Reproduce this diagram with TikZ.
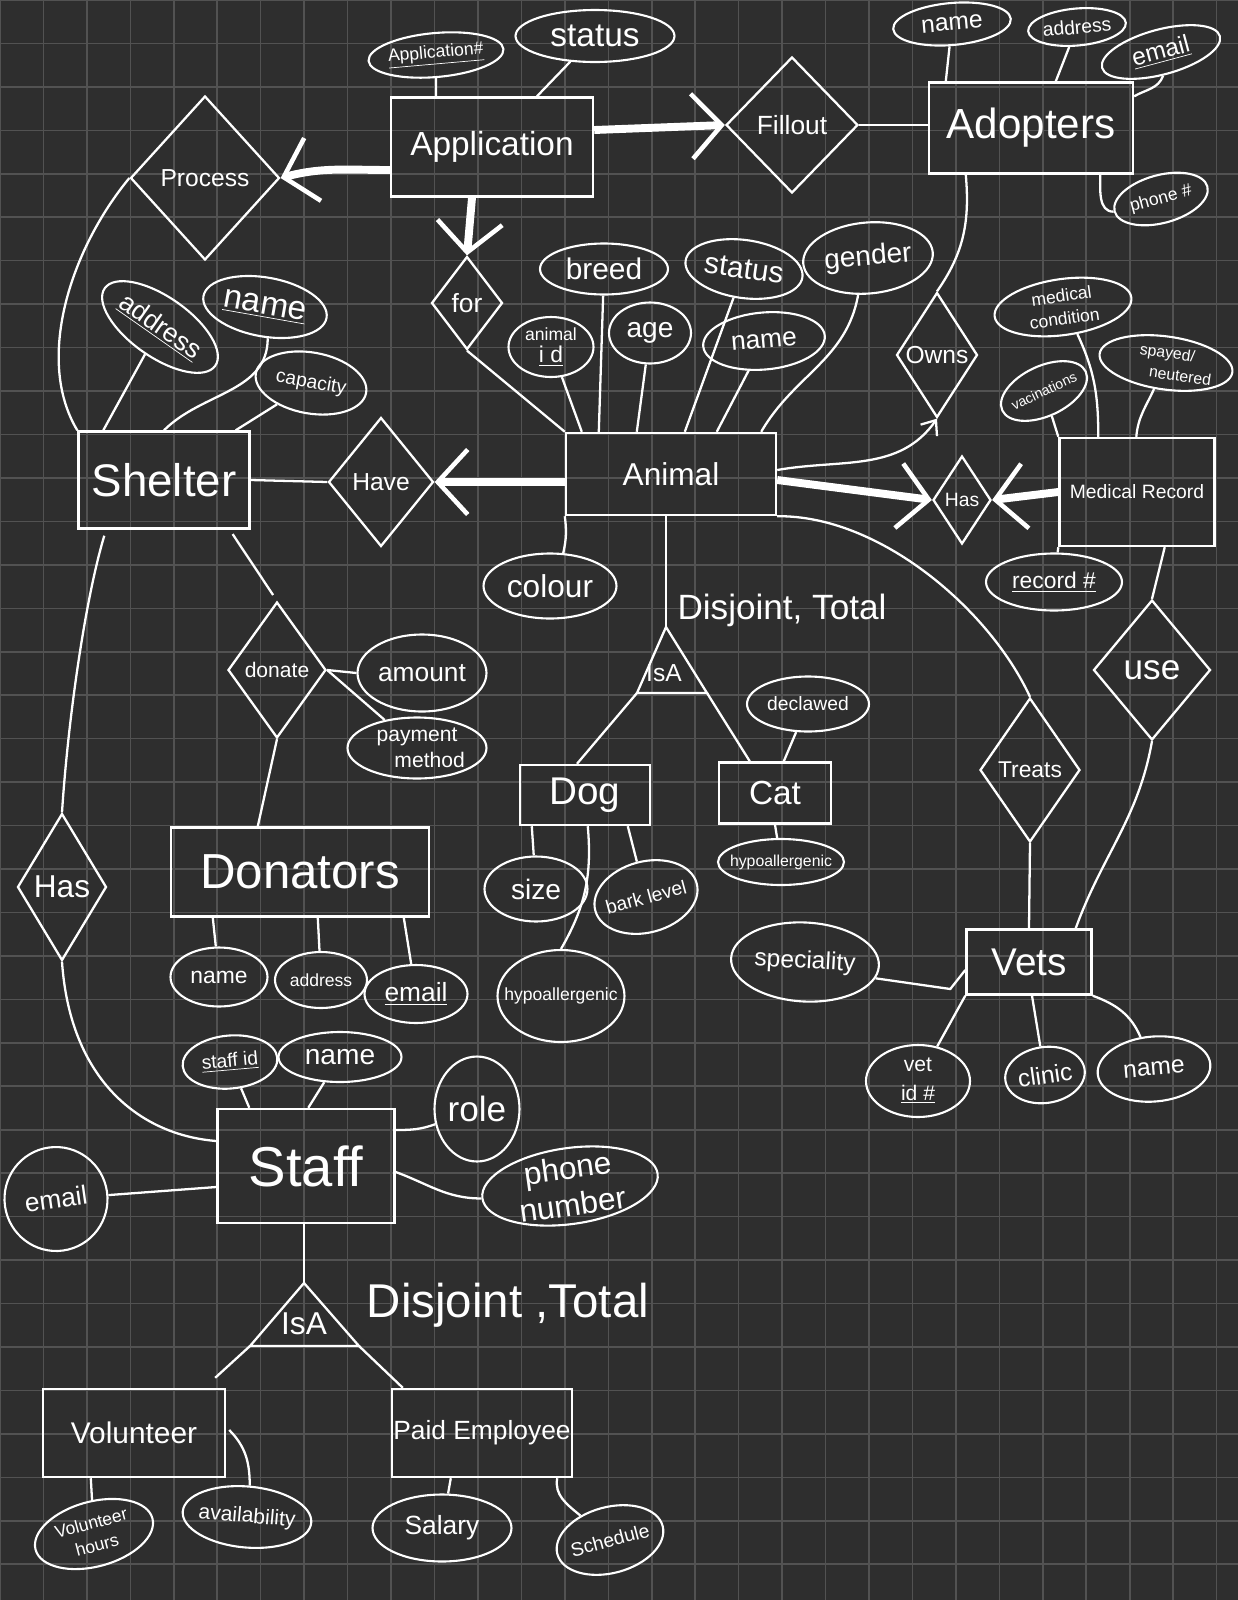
\documentclass[tikz,border=0pt]{standalone}
\usepackage{fontspec}
\setmainfont{Liberation Sans}
\usepackage{tikz}
\usetikzlibrary{arrows.meta,positioning,shapes.geometric,calc}
\definecolor{board}{HTML}{2E2E2E}
\definecolor{gridline}{HTML}{525252}
\definecolor{chalk}{HTML}{FFFFFF}
\newcommand{\pen}[2]{\fontsize{#1}{#2}\selectfont}

\begin{document}
\begin{tikzpicture}[
        x=0.02cm, y=-0.02cm,
        color=chalk,
        ent/.style={draw, rectangle, line width=1.4pt, inner sep=0pt},
        rel/.style={draw, diamond, line width=1.3pt, inner sep=0pt},
        attr/.style={draw, ellipse, line width=1.2pt, inner sep=0pt, align=center},
        tag/.style={inner sep=0pt, align=center},
        link/.style={line width=1.3pt},
        fat/.style={line width=4.5pt, -{Straight Barb[length=6mm,width=13mm,line width=2.6pt]}},
        gridln/.style={draw=gridline, line width=0.9pt}
    ]
    \fill[board] (0,0) rectangle (1238,1600);
    \useasboundingbox (0,0) rectangle (1238,1600);
    \foreach \k in {0,...,28} \draw[gridln] (43.45*\k,0) -- (43.45*\k,1600);
    \foreach \k in {0,...,36} \draw[gridln] (0,43.45*\k) -- (1238,43.45*\k);

    \node[ent, minimum width=4.04cm, minimum height=1.98cm, font=\pen{19}{23}] (app) at (492,147) {Application};
    \node[ent, minimum width=4.08cm, minimum height=1.82cm, font=\pen{24}{28}] (adop) at (1031,128) {Adopters};
    \node[ent, minimum width=4.2cm, minimum height=1.64cm, font=\pen{18}{22}] (anim) at (671,474) {Animal};
    \node[ent, minimum width=3.42cm, minimum height=1.94cm, font=\pen{26}{30}] (shel) at (164,480) {Shelter};
    \node[ent, minimum width=3.1cm, minimum height=2.16cm, font=\pen{11}{13}] (medr) at (1137,492) {Medical Record};
    \node[ent, minimum width=2.6cm, minimum height=1.2cm, font=\pen{22}{26}] (dog) at (585,795) {Dog};
    \node[ent, minimum width=2.24cm, minimum height=1.22cm, font=\pen{19}{23}] (cat) at (775,793) {Cat};
    \node[ent, minimum width=5.16cm, minimum height=1.78cm, font=\pen{28}{32}] (dona) at (300,872) {Donators};
    \node[ent, minimum width=3.54cm, minimum height=2.28cm, font=\pen{32}{36}] (staff) at (306,1166) {Staff};
    \node[ent, minimum width=2.5cm, minimum height=1.3cm, font=\pen{22}{26}] (vets) at (1029,962) {Vets};
    \node[ent, minimum width=3.64cm, minimum height=1.76cm, font=\pen{17}{20}] (volu) at (134,1433) {Volunteer};
    \node[ent, minimum width=3.6cm, minimum height=1.76cm, font=\pen{15}{18}] (paid) at (482,1433) {Paid Employee};

    \node[rel, minimum width=2.98cm, minimum height=3.28cm, font=\pen{14}{17}] (proc) at (205,178) {Process};
    \node[rel, minimum width=2.64cm, minimum height=2.72cm, font=\pen{15}{18}] (fill) at (792,125) {Fillout};
    \node[rel, minimum width=1.42cm, minimum height=1.86cm, font=\pen{15}{18}] (forr) at (467,303) {for};
    \node[rel, minimum width=2.1cm, minimum height=2.58cm, font=\pen{14}{17}] (have) at (381,482) {Have};
    \node[rel, minimum width=1.96cm, minimum height=2.72cm, font=\pen{12}{14}] (dnt) at (277,670) {donate};
    \node[rel, minimum width=1.78cm, minimum height=2.94cm, font=\pen{18}{21}] (hasl) at (62,887) {Has};
    \node[rel, minimum width=1.62cm, minimum height=2.5cm, font=\pen{14}{17}] (owns) at (937,355) {Owns};
    \node[rel, minimum width=1.16cm, minimum height=1.76cm, font=\pen{11}{13}] (hasr) at (962,500) {Has};
    \node[rel, minimum width=2.34cm, minimum height=2.8cm, font=\pen{20}{24}] (use) at (1152,670) {use};
    \node[rel, minimum width=2cm, minimum height=2.88cm, font=\pen{13}{16}] (trt) at (1030,770) {Treats};

    \node[attr, minimum width=2.58cm, minimum height=0.88cm, rotate=5, font=\pen{10}{12}] (appno) at (436,55) {\underline{Application\#}};
    \node[attr, minimum width=3.18cm, minimum height=1.04cm, font=\pen{19}{22}] (appst) at (595,36) {status};
    \node[attr, minimum width=2.36cm, minimum height=0.84cm, rotate=5, font=\pen{14}{16}] (adname) at (952,24) {name};
    \node[attr, minimum width=1.96cm, minimum height=0.74cm, rotate=5, font=\pen{11}{13}] (adaddr) at (1077,27) {address};
    \node[attr, minimum width=2.44cm, minimum height=0.9cm, rotate=15, font=\pen{14}{16}] (ademail) at (1161,52) {\underline{email}};
    \node[attr, minimum width=1.92cm, minimum height=0.96cm, rotate=15, font=\pen{10}{12}] (adphone) at (1161,199) {phone \#};
    \node[attr, minimum width=2.56cm, minimum height=1.02cm, font=\pen{17}{20}] (breed) at (604,269) {breed};
    \node[attr, minimum width=1.7cm, minimum height=1.2cm, inner ysep=-1pt, font=\pen{10}{13}] (anid) at (551,347) {animal\\{\pen{13}{14}\underline{i d}}};
    \node[attr, minimum width=1.64cm, minimum height=1.22cm, font=\pen{16}{19}] (age) at (650,333) {age};
    \node[attr, minimum width=2.36cm, minimum height=1.16cm, rotate=-8, font=\pen{17}{20}] (anst) at (744,269) {status};
    \node[attr, minimum width=2.6cm, minimum height=1.42cm, rotate=5, font=\pen{16}{19}] (gend) at (868,258) {gender};
    \node[attr, minimum width=2.44cm, minimum height=1.14cm, rotate=5, font=\pen{15}{18}] (anname) at (764,341) {name};
    \node[attr, minimum width=2.66cm, minimum height=1.3cm, font=\pen{18}{21}] (colour) at (550,586) {colour};
    \node[attr, minimum width=2.7cm, minimum height=1.2cm, rotate=-35, font=\pen{15}{18}] (shaddr) at (160,327) {\underline{address}};
    \node[attr, minimum width=2.5cm, minimum height=1.18cm, rotate=-10, font=\pen{19}{22}] (shname) at (265,307) {\underline{name}};
    \node[attr, minimum width=2.24cm, minimum height=1.22cm, rotate=-10, font=\pen{11}{13}] (shcap) at (311,383) {capacity};
    \node[attr, minimum width=2.58cm, minimum height=1.54cm, font=\pen{15}{18}] (amount) at (422,673) {amount};
    \node[attr, minimum width=2.78cm, minimum height=1.22cm, inner ysep=-1pt, font=\pen{12}{15}] (paym) at (417,748) {payment\\\hspace*{1.2em}method};
    \node[attr, minimum width=1.94cm, minimum height=1.18cm, font=\pen{13}{15}] (dnname) at (219,977) {name};
    \node[attr, minimum width=1.84cm, minimum height=1.12cm, font=\pen{10}{12}] (dnaddr) at (321,980) {address};
    \node[attr, minimum width=2.06cm, minimum height=1.16cm, font=\pen{15}{18}] (dnemail) at (416,994) {\underline{email}};
    \node[attr, minimum width=2.44cm, minimum height=1.1cm, font=\pen{11}{13}] (dcl) at (808,704) {declawed};
    \node[attr, minimum width=2.52cm, minimum height=0.92cm, inner xsep=-4pt, font=\pen{9}{11}] (cathy) at (781,862) {hypoallergenic};
    \node[attr, minimum width=2.06cm, minimum height=1.3cm, font=\pen{16}{19}] (size) at (536,889) {size};
    \node[attr, minimum width=2.1cm, minimum height=1.42cm, inner xsep=-3pt, rotate=15, font=\pen{11}{13}] (bark) at (646,897) {bark level};
    \node[attr, minimum width=2.54cm, minimum height=1.84cm, inner xsep=-7pt, font=\pen{10}{12}] (doghy) at (561,996) {hypoallergenic};
    \node[attr, minimum width=2.76cm, minimum height=1.12cm, inner ysep=-1pt, rotate=8, font=\pen{10}{13}] (medc) at (1063,307) {medical\\condition};
    \node[attr, minimum width=2.68cm, minimum height=1.06cm, inner ysep=-1pt, rotate=-8, font=\pen{9}{12}] (spay) at (1166,363) {spayed/\\\hspace*{2em}neutered};
    \node[attr, minimum width=1.84cm, minimum height=1cm, inner xsep=-2pt, rotate=25, font=\pen{8}{10}] (vacc) at (1044,391) {vacinations};
    \node[attr, minimum width=2.72cm, minimum height=1.14cm, font=\pen{13}{15}] (recno) at (1054,582) {\underline{record \#}};
    \node[attr, minimum width=2.96cm, minimum height=1.58cm, rotate=-3, font=\pen{14}{17}] (spec) at (805,962) {speciality};
    \node[attr, minimum width=2.08cm, minimum height=1.44cm, font=\pen{12}{16}] (vetid) at (918,1081) {vet\\\underline{id \#}};
    \node[attr, minimum width=1.6cm, minimum height=1.12cm, rotate=8, font=\pen{14}{17}] (clin) at (1045,1075) {clinic};
    \node[attr, minimum width=2.26cm, minimum height=1.3cm, rotate=5, font=\pen{14}{17}] (vtname) at (1154,1069) {name};
    \node[attr, minimum width=1.9cm, minimum height=1.06cm, rotate=5, font=\pen{11}{13}] (stid) at (230,1062) {\underline{staff id}};
    \node[attr, minimum width=2.46cm, minimum height=1cm, font=\pen{16}{19}] (stname) at (340,1057) {name};
    \node[attr, minimum width=1.7cm, minimum height=2.1cm, font=\pen{20}{24}] (role) at (477,1109) {role};
    \node[attr, minimum width=3.54cm, minimum height=1.52cm, inner ysep=-5pt, rotate=8, font=\pen{18}{21}] (phon) at (570,1186) {phone\\number};
    \node[attr, minimum width=2.06cm, minimum height=2.08cm, rotate=8, font=\pen{15}{18}] (stemail) at (56,1199) {email};
    \node[attr, minimum width=2.42cm, minimum height=1.3cm, rotate=15, font=\pen{10}{13}] (voh) at (94,1534) {Volunteer\\hours};
    \node[attr, minimum width=2.58cm, minimum height=1.22cm, inner xsep=-3pt, rotate=-5, font=\pen{12}{14}] (avail) at (247,1517) {availability};
    \node[attr, minimum width=2.78cm, minimum height=1.34cm, font=\pen{15}{18}] (sal) at (442,1528) {Salary};
    \node[attr, minimum width=2.18cm, minimum height=1.32cm, inner xsep=-2pt, rotate=15, font=\pen{11}{13}] (sched) at (610,1540) {Schedule};

    \coordinate (aisatop) at (666,627);
    \coordinate (aisal) at (637,693);
    \coordinate (aisar) at (707,693);
    \draw[link] (aisatop) -- (aisal) -- (aisar) -- cycle;
    \node[tag, font=\pen{14}{16}] (aisa) at (664,673) {IsA};
    \node[tag, font=\pen{20}{24}] (adisj) at (782,610) {Disjoint, Total};

    \coordinate (sisatop) at (304,1283);
    \coordinate (sisal) at (250,1346);
    \coordinate (sisar) at (359,1346);
    \draw[link] (sisatop) -- (sisal) -- (sisar) -- cycle;
    \node[tag, font=\pen{18}{20}] (sisa) at (304,1324) {IsA};
    \node[tag, font=\pen{27}{30}] (sdisj) at (508,1305) {Disjoint ,Total};

    \draw[fat] ($(app.east)+(0,-17)$) -- (fill.west);
    \draw[fat] ($(app.west)+(0,23)$) to[out=180,in=15] (proc.east);
    \draw[fat] ($(app.south)+(-20,0)$) -- (forr.north);
    \draw[fat] ($(anim.west)+(0,8)$) -- (have.east);
    \draw[fat] ($(anim.east)+(0,6)$) -- (hasr.west);
    \draw[fat] (medr.west) -- (hasr.east);

    \draw[link] (appno) -- (appno |- app.north);
    \draw[link] (appst) -- ($(app.north)+(45,0)$);
    \draw[link] (fill.east) -- (fill.east -| adop.west);
    \draw[link] (adname) -- ($(adop.north west)+(18,0)$);
    \draw[link] (adaddr) -- ($(adop.north west)+(128,0)$);
    \draw[link] (ademail.-100) to[out=-110,in=30] ($(adop.north east)+(0,15)$);
    \draw[link] ($(adop.south east)+(-34,0)$) to[out=-90,in=180] (adphone.west);
    \draw[link] ($(adop.south west)+(38,0)$) to[out=-85,in=55] (owns.north);
    \draw[link, -{Straight Barb[length=2.5mm,width=4mm]}] ($(anim.east)+(0,-4)$) to[out=10,in=-125] (owns.south);

    \draw[link] (forr.south) -- (anim.north west);
    \draw[link] (anid) -- ($(anim.north west)+(17,0)$);
    \draw[link] (breed) -- ($(anim.north west)+(34,0)$);
    \draw[link] (age) -- ($(anim.north west)+(72,0)$);
    \draw[link] (anst) -- ($(anim.north west)+(120,0)$);
    \draw[link] (anname) -- ($(anim.north west)+(152,0)$);
    \draw[link] (gend.250) to[out=-100,in=60] ($(anim.north east)+(-16,0)$);
    \draw[link] (colour) to[bend right=10] (anim.south west);

    \draw[link] (shel.east) -- (have.west);
    \draw[link] (proc.west) .. controls (70,250) and (35,360) .. (shel.north west);
    \draw[link] (shaddr) -- ($(shel.north west)+(26,0)$);
    \draw[link] (shname.-75) to[out=-90,in=45] (shel.north);
    \draw[link] (shcap) -- ($(shel.north east)+(-15,0)$);
    \draw[link, shorten <=3pt, shorten >=4pt] ($(shel.south east)+(-21,0)$) -- (dnt.north);
    \draw[link] (dnt.east) -- (amount.west);
    \draw[link] (dnt.east) -- (paym);
    \draw[link] (dnt.south) -- ($(dona.north west)+(88,0)$);
    \draw[link] ($(dona.south west)+(43,0)$) -- (dnname);
    \draw[link] ($(dona.south west)+(148,0)$) -- (dnaddr);
    \draw[link] ($(dona.south west)+(234,0)$) -- (dnemail);

    \draw[link] ($(shel.south west)+(27,6)$) .. controls (85,600) and (68,720) .. (hasl.north);
    \draw[link] (hasl.south) .. controls (70,1080) and (140,1135) .. ($(staff.west)+(0,-25)$);

    \draw[link] (anim.south -| aisatop) -- (aisatop);
    \draw[link] (aisal) -- ($(dog.north)+(-8,0)$);
    \draw[link] (aisar) -- ($(cat.north west)+(32,0)$);
    \draw[link] (dcl) -- ($(cat.north west)+(66,0)$);
    \draw[link] (cat.south) -- (cathy);
    \draw[link] ($(dog.south west)+(13,0)$) -- (size);
    \draw[link] ($(dog.south west)+(109,0)$) -- (bark);
    \draw[link] ($(dog.south west)+(69,0)$) to[out=-85,in=60] (doghy.north);

    \draw[link] (recno) -- (medr.south west);
    \draw[link] (vacc) -- (medr.north west);
    \draw[link] (medc.290) to[out=-65,in=90] ($(medr.north west)+(40,0)$);
    \draw[link] (spay) to[out=-110,in=85] ($(medr.north west)+(78,0)$);
    \draw[link] ($(medr.south east)+(-51,0)$) -- (use.north);
    \draw[link] (use.south) to[out=-100,in=70] ($(vets.north east)+(-17,0)$);

    \draw[link] (anim.south east) .. controls (880,515) and (990,610) .. (trt.north);
    \draw[link] (trt.south) -- (vets.north);
    \draw[link] (spec.-10) -- ($(vets.west)+(-15,27)$) -- ($(vets.west)+(0,8)$);
    \draw[link] (vets.south west) -- (vetid);
    \draw[link] ($(vets.south)+(3,0)$) -- (clin);
    \draw[link] (vets.south east) to[out=-20,in=110] (vtname);

    \draw[link] (stid) -- ($(staff.north west)+(33,0)$);
    \draw[link] (stname) -- ($(staff.north west)+(92,0)$);
    \draw[link] ($(staff.east)+(0,-36)$) to[out=0,in=-160] (role);
    \draw[link] ($(staff.east)+(0,6)$) to[out=-20,in=180] (phon.west);
    \draw[link] ($(staff.west)+(0,21)$) -- (stemail);

    \draw[link] (staff.south -| sisatop) -- (sisatop);
    \draw[link] (sisal) -- ($(volu.north east)+(-11,-10)$);
    \draw[link] (sisar) -- ($(paid.north west)+(12,0)$);
    \draw[link] ($(volu.south west)+(49,0)$) -- (voh);
    \draw[link] ($(volu.east)+(3,-3)$) to[out=-45,in=90] (avail.north);
    \draw[link] ($(paid.south west)+(60,0)$) -- (sal);
    \draw[link] ($(paid.south east)+(-16,0)$) to[out=-100,in=130] (sched);
\end{tikzpicture}
\end{document}
